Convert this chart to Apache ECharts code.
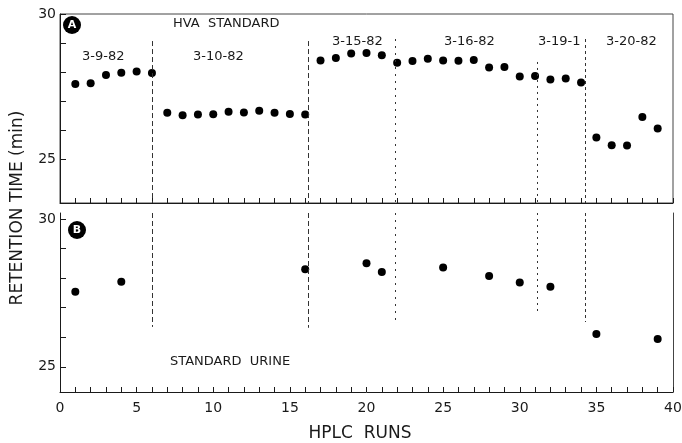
<!DOCTYPE html>
<html>
<head>
<meta charset="utf-8">
<script src="https://cdn.jsdelivr.net/npm/echarts@6/dist/echarts.min.js"></script>
<style>
  html, body { margin: 0; padding: 0; background: #fff; }
  #chart { width: 682px; height: 443px; }
</style>
</head>
<body>
<div id="chart"></div>
<script>
// panel A: HVA standard, every run
const runsA = [1, 2, 3, 4, 5, 6, 7, 8, 9, 10, 11, 12, 13, 14, 15, 16, 17, 18, 19, 20,
  21, 22, 23, 24, 25, 26, 27, 28, 29, 30, 31, 32, 33, 34, 35, 36, 37, 38, 39]
const retentionA = [27.59, 27.62, 27.9, 27.98, 28.02, 27.97, 26.6, 26.52, 26.54, 26.55,
  26.64, 26.61, 26.67, 26.6, 26.56, 26.54, 28.4, 28.49, 28.64, 28.66,
  28.58, 28.32, 28.38, 28.46, 28.4, 28.39, 28.42, 28.16, 28.18, 27.85,
  27.87, 27.75, 27.78, 27.64, 25.75, 25.49, 25.48, 26.46, 26.06]
// panel B: standard urine
const runsB = [1, 4, 16, 20, 21, 25, 28, 30, 32, 35, 39]
const retentionB = [27.54, 27.88, 28.3, 28.5, 28.21, 28.36, 28.07, 27.85, 27.71, 26.11, 25.94]

// day boundaries (run position, top end in A, bottom end in B)
const dayBreaks = [6, 16.2, 21.9, 31.15, 34.3]
const breakTopA = [29.07, 29.07, 29.14, 28.35, 29.14]
const breakBottomB = [26.35, 26.32, 26.52, 26.82, 26.52]
const breakDash = [[5, 3], [5, 3], [2, 5], [2, 4], [3, 3]]

const xTickValues = Array.from({ length: 41 }, (_, i) => i)
const xTickLabels = [0, 5, 10, 15, 20, 25, 30, 35, 40]
const yTickValues = [25, 26, 27, 28, 29, 30]
const yTickLabels = [25, 30]

const font = 'DejaVu Sans'
const ink = '#1a1a1a'

const xAxisBase = (gridIndex, showLabels) => ({
  type: 'value',
  gridIndex,
  min: 0,
  max: 40,
  axisLine: { show: true, lineStyle: { color: ink, width: 1 } },
  axisTick: { show: true, inside: true, length: 5, customValues: xTickValues, lineStyle: { color: ink } },
  axisLabel: {
    show: showLabels,
    customValues: xTickLabels,
    margin: 9,
    fontFamily: font,
    fontSize: 14,
    color: ink
  },
  splitLine: { show: false }
})

const yAxisBase = (gridIndex, min, max) => ({
  type: 'value',
  gridIndex,
  min,
  max,
  axisLine: { show: true, lineStyle: { color: ink, width: 1 } },
  axisTick: { show: true, inside: true, length: 6, customValues: yTickValues, lineStyle: { color: ink } },
  axisLabel: {
    customValues: yTickLabels,
    margin: 4,
    fontFamily: font,
    fontSize: 14,
    color: ink
  },
  splitLine: { show: false }
})

const breakLines = (tops, bottoms) => dayBreaks.map((x, i) => [
  { coord: [x, tops[i]], lineStyle: { type: breakDash[i] } },
  { coord: [x, bottoms[i]] }
])

const label = (text, left, top, size = 13) => ({
  type: 'text',
  left,
  top,
  style: { text, fontFamily: font, fontSize: size, fill: ink }
})

const badge = (letter, cx, cy) => ({
  type: 'group',
  children: [
    { type: 'circle', shape: { cx, cy, r: 9 }, style: { fill: '#000' } },
    {
      type: 'text',
      x: cx,
      y: cy,
      style: { text: letter, fill: '#fff', fontFamily: font, fontSize: 11, fontWeight: 'bold', align: 'center', verticalAlign: 'middle' }
    }
  ]
})

const chart = echarts.init(document.getElementById('chart'), null, { renderer: 'canvas' })

chart.setOption({
  backgroundColor: '#fff',
  animation: false,
  grid: [
    { left: 60, right: 9, top: 14, height: 189, outerBoundsMode: 'none', show: true, borderColor: '#444', borderWidth: 1 },
    { left: 60, right: 9, top: 213, height: 179, outerBoundsMode: 'none' }
  ],
  xAxis: [xAxisBase(0, false), xAxisBase(1, true)],
  yAxis: [
    yAxisBase(0, 23.5, 30),
    yAxisBase(1, 24.15, 30.2),
    {
      type: 'value', gridIndex: 1, position: 'right', min: 24.15, max: 30.2,
      axisLine: { show: true, lineStyle: { color: '#444' } },
      axisTick: { show: false }, axisLabel: { show: false }, splitLine: { show: false }
    }
  ],
  series: [
    {
      type: 'scatter',
      xAxisIndex: 0,
      yAxisIndex: 0,
      symbolSize: 8,
      itemStyle: { color: '#000', opacity: 1 },
      data: runsA.map((r, i) => [r, retentionA[i]]),
      markLine: {
        silent: true,
        symbol: 'none',
        label: { show: false },
        lineStyle: { color: '#333', width: 1 },
        data: breakLines(breakTopA, dayBreaks.map(() => 23.5))
      }
    },
    {
      type: 'scatter',
      xAxisIndex: 1,
      yAxisIndex: 1,
      symbolSize: 8,
      itemStyle: { color: '#000', opacity: 1 },
      data: runsB.map((r, i) => [r, retentionB[i]]),
      markLine: {
        silent: true,
        symbol: 'none',
        label: { show: false },
        lineStyle: { color: '#333', width: 1 },
        data: breakLines(dayBreaks.map(() => 30.2), breakBottomB)
      }
    }
  ],
  graphic: [
    badge('A', 72, 25),
    badge('B', 77, 230),
    label('HVA  STANDARD', 173, 17),
    label('3-9-82', 82, 50),
    label('3-10-82', 193, 50),
    label('3-15-82', 332, 35),
    label('3-16-82', 444, 35),
    label('3-19-1', 538, 35),
    label('3-20-82', 606, 35),
    label('STANDARD  URINE', 170, 355),
    {
      type: 'text',
      x: 18,
      y: 208,
      rotation: Math.PI / 2,
      style: {
        text: 'RETENTION TIME (min)',
        fontFamily: font,
        fontSize: 17,
        fill: ink,
        align: 'center',
        verticalAlign: 'middle'
      }
    },
    {
      type: 'text',
      x: 360,
      y: 434,
      style: {
        text: 'HPLC  RUNS',
        fontFamily: font,
        fontSize: 17,
        fill: ink,
        align: 'center',
        verticalAlign: 'middle'
      }
    }
  ]
})
</script>
</body>
</html>
